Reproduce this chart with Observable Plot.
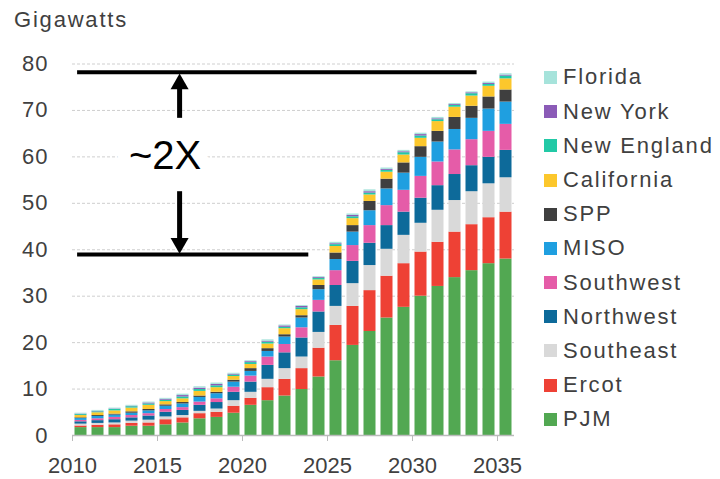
<!DOCTYPE html>
<html>
<head>
<meta charset="utf-8">
<script src="https://cdn.jsdelivr.net/npm/d3@7"></script>
<script src="https://cdn.jsdelivr.net/npm/@observablehq/plot@0.6"></script>
<style>
  body { margin: 0; background: #fff; font-family: "Liberation Sans", Arial, sans-serif; }
  #wrap { position: relative; width: 720px; height: 479px; }
  #title { position: absolute; left: 14px; top: 9px; font-size: 22px; line-height: 22px; letter-spacing: 1.8px; color: #404040; }
  #legend { position: absolute; left: 544px; top: 60.4px; }
  .row { display: flex; align-items: center; height: 34.2px; }
  .sw { width: 13px; height: 13px; margin-right: 6px; }
  .lab { font-size: 22px; line-height: 22px; letter-spacing: 1.8px; color: #404040; white-space: nowrap; }
  svg [aria-label="y-axis tick label"] text { letter-spacing: 1px; }
</style>
</head>
<body>
<div id="wrap">
  <div id="chart"></div>
  <div id="title">Gigawatts</div>
  <div id="legend"></div>
</div>
<script>
// Installed data-center capacity by region, gigawatts, 2010–2035
const years = d3.range(2010, 2036);
const regions = ["PJM", "Ercot", "Southeast", "Northwest", "Southwest", "MISO", "SPP", "California", "New England", "New York", "Florida"];
const colors  = ["#52a852", "#ee4135", "#d9d9d9", "#0d6a9a", "#e55ca8", "#1f9fe0", "#3f3f3f", "#fcc72c", "#22c9a6", "#8b5bb7", "#a6e3db"];

const pjm        = [1.7, 1.7, 1.7, 2.0, 2.0, 2.3, 2.7, 3.6, 3.9, 4.8, 6.5, 7.5, 8.5, 9.9, 12.6, 16.1, 19.4, 22.4, 25.3, 27.6, 30.0, 32.1, 34.0, 35.5, 37.0, 38.0];
const ercot      = [0.35, 0.5, 0.6, 0.6, 0.7, 1.1, 1.1, 1.1, 1.1, 1.5, 1.5, 2.8, 3.6, 4.5, 6.2, 7.6, 8.4, 8.8, 9.0, 9.4, 9.5, 9.5, 9.8, 9.9, 9.9, 10.1];
const southeast  = [0.4, 0.4, 0.4, 0.5, 0.6, 0.6, 0.5, 0.5, 0.7, 1.2, 1.3, 1.8, 2.3, 2.5, 3.4, 4.1, 4.9, 5.4, 5.8, 6.1, 6.2, 6.9, 6.8, 7.1, 7.3, 7.4];
const northwest  = [0.5, 0.6, 0.7, 0.7, 0.9, 1.0, 1.1, 1.3, 1.4, 1.8, 2.2, 3.0, 3.4, 4.1, 4.4, 4.5, 4.8, 4.8, 5.1, 5.0, 5.4, 5.3, 5.6, 5.6, 5.7, 5.9];
const southwest  = [0.3, 0.4, 0.5, 0.5, 0.5, 0.6, 0.6, 0.7, 0.8, 1.1, 1.3, 1.8, 1.8, 2.2, 2.5, 3.2, 3.4, 3.8, 4.3, 4.7, 4.7, 5.1, 5.3, 5.6, 5.6, 5.6];
const miso       = [0.4, 0.5, 0.5, 0.5, 0.6, 0.7, 0.8, 1.0, 1.1, 1.1, 1.0, 1.2, 1.6, 2.1, 2.3, 2.4, 2.9, 3.2, 3.6, 3.7, 4.1, 4.3, 4.4, 4.6, 4.8, 4.8];
const spp        = [0.15, 0.2, 0.2, 0.3, 0.3, 0.3, 0.3, 0.3, 0.3, 0.4, 0.6, 0.6, 0.5, 0.5, 0.9, 1.4, 1.4, 2.0, 2.1, 2.2, 2.3, 2.3, 2.6, 2.6, 2.6, 2.6];
const california = [0.5, 0.6, 0.7, 0.8, 0.9, 0.7, 0.8, 1.0, 1.0, 0.8, 0.9, 1.0, 1.3, 1.3, 1.2, 1.4, 1.5, 1.4, 1.5, 1.7, 1.8, 2.1, 2.2, 2.2, 2.3, 2.4];
const newEngland = [0.2, 0.2, 0.3, 0.3, 0.3, 0.3, 0.4, 0.4, 0.4, 0.3, 0.4, 0.4, 0.3, 0.4, 0.3, 0.4, 0.4, 0.4, 0.4, 0.5, 0.5, 0.4, 0.4, 0.5, 0.4, 0.6];
const newYork    = [0.1, 0.1, 0.1, 0.1, 0.2, 0.2, 0.3, 0.3, 0.3, 0.2, 0.2, 0.2, 0.3, 0.3, 0.2, 0.2, 0.3, 0.3, 0.2, 0.2, 0.3, 0.2, 0.2, 0.2, 0.2, 0.2];
const florida    = [0.2, 0.2, 0.2, 0.2, 0.2, 0.2, 0.3, 0.3, 0.3, 0.2, 0.2, 0.3, 0.2, 0.2, 0.2, 0.3, 0.3, 0.4, 0.3, 0.3, 0.3, 0.3, 0.2, 0.2, 0.3, 0.3];

const series = [pjm, ercot, southeast, northwest, southwest, miso, spp, california, newEngland, newYork, florida];

const yTicks = d3.range(0, 90, 10);
const xTicks = d3.range(2010, 2040, 5);

// "~2X" annotation: today's level vs. the 2035 level
const levelLines = [
  {y: 78.2, x1: 2010.3, x2: 2033.8},
  {y: 39.0, x1: 2010.3, x2: 2023.9}
];
const arrowX = 2016.3;
const arrowShafts = [
  {y1: 74.6, y2: 68.3},
  {y1: 52.5, y2: 42.4}
];
const arrowHeads = [
  {y: 75.7, rotate: 0},
  {y: 41.4, rotate: 180}
];
const ratioLabel = {x: 2015.45, y: 60.1, text: "~2X"};

const data = [];
regions.forEach((r, i) => years.forEach((yr, j) => data.push({region: r, year: yr, value: series[i][j]})));

const chart = Plot.plot({
  width: 720,
  height: 479,
  marginLeft: 72,
  marginRight: 206,
  marginTop: 63.5,
  marginBottom: 44,
  style: {fontFamily: "'Liberation Sans', Arial, sans-serif", fontSize: "22px", color: "#404040", background: "white"},
  x: {domain: [2010, 2036]},
  y: {domain: [0, 80]},
  color: {domain: regions, range: colors},
  marks: [
    Plot.gridY(yTicks.filter(d => d > 0), {stroke: "#cfcfcf", strokeOpacity: 1, strokeDasharray: "3,2"}),
    Plot.axisY(yTicks, {tickSize: 0, tickPadding: 24, fill: "#404040", label: null}),
    Plot.axisX(xTicks, {tickSize: 6, tickPadding: 16, stroke: "#bbbbbb", fill: "#404040", tickFormat: d => String(d), label: null}),
    Plot.rectY(data, {
      x1: "year",
      x2: d => d.year + 1,
      y: "value",
      fill: "region",
      order: regions,
      insetLeft: 2.5,
      insetRight: 2.5
    }),
    Plot.ruleY([0], {stroke: "#bbbbbb", strokeWidth: 1.5}),
    Plot.text([ratioLabel], {x: "x", y: "y", text: "text", fontSize: 40, fill: "black", stroke: "white", strokeWidth: 26, fontFamily: "'Liberation Sans', Arial, sans-serif"}),
    Plot.ruleY(levelLines, {y: "y", x1: "x1", x2: "x2", stroke: "black", strokeWidth: 4}),
    Plot.ruleX(arrowShafts, {x: () => arrowX, y1: "y1", y2: "y2", stroke: "black", strokeWidth: 5}),
    Plot.dot(arrowHeads, {x: () => arrowX, y: "y", rotate: "rotate", symbol: "triangle", r: 6.7, fill: "black", stroke: null})
  ]
});
document.getElementById("chart").append(chart);

// Legend, top entry is the top of the stack
const legend = d3.select("#legend");
regions.slice().reverse().forEach(r => {
  const row = legend.append("div").attr("class", "row");
  row.append("div").attr("class", "sw").style("background", colors[regions.indexOf(r)]);
  row.append("div").attr("class", "lab").text(r);
});
</script>
</body>
</html>
